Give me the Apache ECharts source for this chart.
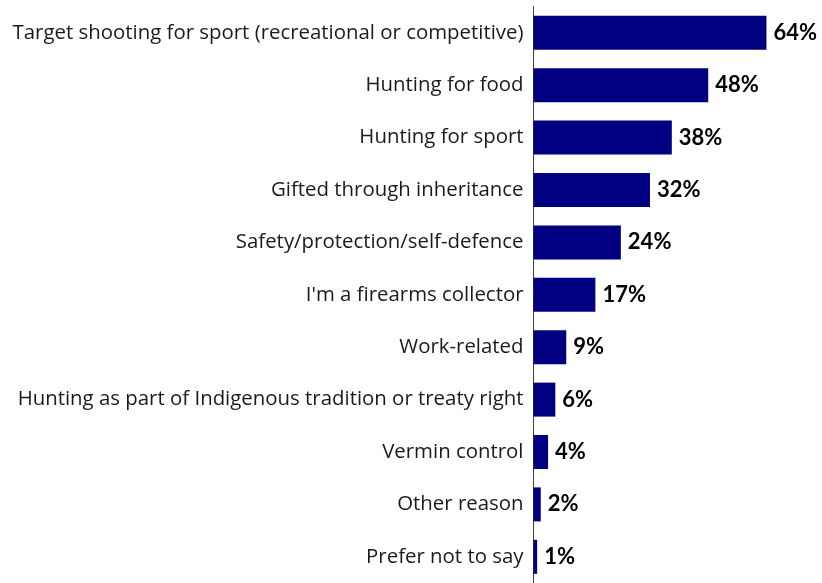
<!DOCTYPE html>
<html>
<head>
<meta charset="utf-8">
<style>
  html, body { margin: 0; padding: 0; background: #fff; }
  #chart { width: 822px; height: 583px; }
</style>
<script src="https://cdn.jsdelivr.net/npm/echarts@6/dist/echarts.min.js"></script>
</head>
<body>
<div id="chart"></div>
<script>
// Reasons for owning a firearm, share of respondents (%)
const categories = [
  'Target shooting for sport (recreational or competitive)',
  'Hunting for food',
  'Hunting for sport',
  'Gifted through inheritance',
  'Safety/protection/self-defence',
  "I'm a firearms collector",
  'Work-related',
  'Hunting as part of Indigenous tradition or treaty right',
  'Vermin control',
  'Other reason',
  'Prefer not to say'
];
const values = [64, 48, 38, 32, 24, 17, 9, 6, 4, 2, 1];

const chart = echarts.init(document.getElementById('chart'));
chart.setOption({
  animation: false,
  grid: { left: 533.5, right: 33.7, top: 6.6, bottom: -4.4, containLabel: false },
  xAxis: {
    type: 'value',
    min: 0,
    max: 70,
    show: false
  },
  yAxis: {
    type: 'category',
    data: categories,
    inverse: true,
    axisLine: { show: true, lineStyle: { color: '#404040', width: 1 } },
    axisTick: { show: false },
    axisLabel: {
      margin: 10,
      color: '#1a1a1a',
      fontFamily: 'Open Sans',
      fontSize: 20.4
    }
  },
  series: [{
    type: 'bar',
    data: values,
    barWidth: 34,
    itemStyle: { color: '#000080' },
    label: {
      show: true,
      position: 'right',
      distance: 7,
      formatter: '{c}%',
      color: '#000',
      fontFamily: 'Lato',
      fontWeight: 'bold',
      fontSize: 22
    }
  }]
});
</script>
</body>
</html>
